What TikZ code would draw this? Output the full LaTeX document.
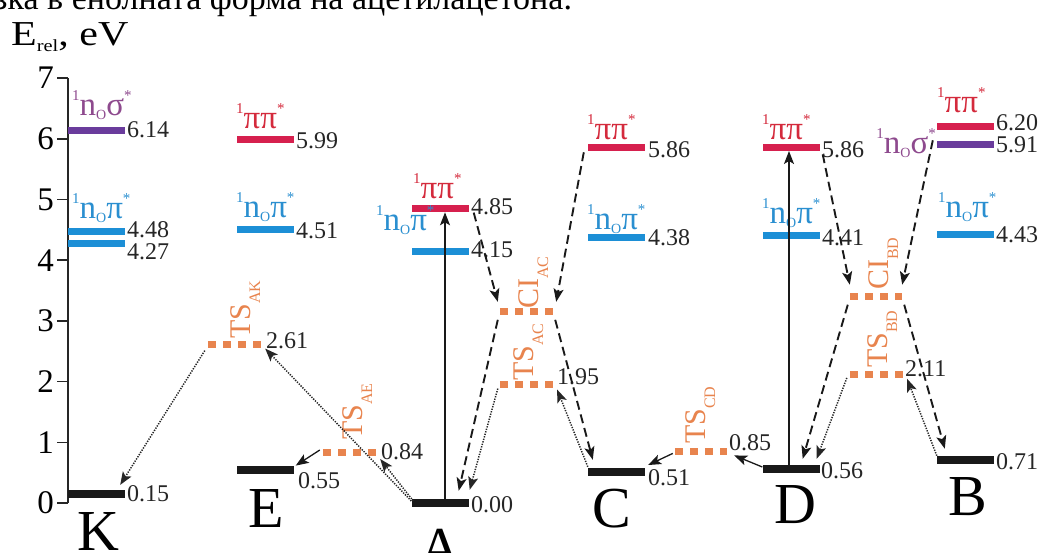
\documentclass[tikz,border=0pt]{standalone}
\usepackage{fontspec}
\setmainfont{Liberation Serif}
\usetikzlibrary{arrows.meta,calc}
\definecolor{cblue}{HTML}{1C8FD6}
\definecolor{cred}{HTML}{D6204E}
\definecolor{cpurp}{HTML}{6A3C9C}
\definecolor{ctpurp}{HTML}{8E4A8E}
\definecolor{ctblue}{HTML}{2A8FD0}
\definecolor{ctred}{HTML}{D42A3C}
\definecolor{corange}{HTML}{E8844E}
\newcommand{\ssup}[1]{\raisebox{15pt}{\fontsize{15}{15}\selectfont #1}}
\newcommand{\ssub}[1]{\raisebox{-4pt}{\fontsize{14}{14}\selectfont #1}}
\newcommand{\lblpp}{\ssup{1}ππ\ssup{*}}
\newcommand{\lblnp}{\ssup{1}n\ssub{O}π\ssup{*}}
\newcommand{\lblns}{\ssup{1}n\ssub{O}σ\ssup{*}}
\newcommand{\tslab}[2]{#1\raisebox{-10pt}{\fontsize{16}{16}\selectfont #2}}
\tikzset{
  bar/.style={inner sep=0pt, minimum width=57pt, minimum height=7pt, fill=#1},
  gbar/.style={inner sep=0pt, minimum width=57pt, minimum height=8pt, fill=black!90},
  tsbar/.style={inner sep=0pt, minimum width=#1, minimum height=7pt},
  tsdots/.style={corange, line width=7pt, dash pattern=on 8pt off 7.2pt},
  val/.style={anchor=west, inner sep=0pt, font=\fontsize{24}{24}\selectfont, text=black!85},
  st/.style={anchor=base west, inner sep=0pt, font=\fontsize{33}{33}\selectfont},
  tsl/.style={anchor=base west, inner sep=0pt, rotate=90, text=corange, font=\fontsize{30}{30}\selectfont},
  big/.style={anchor=base, inner sep=0pt, font=\fontsize{58}{58}\selectfont},
  solidarr/.style={line width=1.3pt, black!90, -{Stealth[length=13pt,width=10pt,inset=3pt]}},
  dasharr/.style={line width=1.9pt, black!90, dash pattern=on 9pt off 5pt, -{Stealth[length=13pt,width=10pt,inset=3pt]}},
  dotarr/.style={line width=1.5pt, black!85, dash pattern=on 1.3pt off 1.3pt, -{Stealth[length=13pt,width=10pt,inset=3pt]}},
}
\begin{document}
\begin{tikzpicture}[x=1pt,y=-1pt]
\useasboundingbox (0,0) rectangle (1045,552);
% caption fragment
\node[anchor=base west, inner sep=0pt, font=\fontsize{34}{34}\selectfont] (cap) at (-6,9) {зка в енолната форма на ацетилацетона.};
% axis title
\node[anchor=base west, inner sep=0pt, font=\fontsize{35}{35}\selectfont] (ytitle) at (11,45) {\scalebox{1.2}[1]{E\raisebox{-6pt}{\fontsize{17}{17}\selectfont rel}, eV}};
% axis
\draw[line width=1.5pt, black!85] (68,78) -- (68,503);
\foreach \v in {0,...,7}{
  \draw[line width=1.5pt, black!85] (57,{503-60.7*\v}) -- (68,{503-60.7*\v});
  \node[anchor=east, inner sep=0pt, font=\fontsize{33}{33}\selectfont] (tick\v) at (54,{503-60.7*\v}) {\v};
}
% K column
\node[bar=cpurp] (KS) at (96.5,130.3) {};
\node[bar=cblue] (Kn1) at (96.5,231.1) {};
\node[bar=cblue] (Kn2) at (96.5,243.8) {};
\node[gbar] (K0) at (96.5,493.9) {};
\node[st, text=ctpurp] (lKS) at (72,115) {\lblns};
\node[st, text=ctblue] (lKn) at (72,218) {\lblnp};
\node[val] (vKS) at (127,130) {6.14};
\node[val] (vKn1) at (127,230) {4.48};
\node[val] (vKn2) at (127,252) {4.27};
\node[val] (vK0) at (127,494) {0.15};
\node[big] (lK) at (98,550) {K};
% E column
\node[bar=cred] (Epp) at (265,139.4) {};
\node[bar=cblue] (En) at (265,229.2) {};
\node[gbar] (E0) at (265,469.6) {};
\node[st, text=ctred] (lEpp) at (236,128) {\lblpp};
\node[st, text=ctblue] (lEn) at (236,217) {\lblnp};
\node[val] (vEpp) at (296,141) {5.99};
\node[val] (vEn) at (296,231) {4.51};
\node[val] (vE0) at (298,481) {0.55};
\node[big] (lE) at (266,527) {E};
% TS_AK, TS_AE
\node[tsbar=54pt] (TSAK) at (235,344.6) {};
\draw[tsdots] (TSAK.west) -- (TSAK.east);
\node[tsl] (lTSAK) at (250,339) {\tslab{TS}{AK}};
\node[val] (vTSAK) at (266,341) {2.61};
\node[tsbar=54pt] (TSAE) at (350,452) {};
\draw[tsdots] (TSAE.west) -- (TSAE.east);
\node[tsl] (lTSAE) at (362,440) {\tslab{TS}{AE}};
\node[val] (vTSAE) at (381,452) {0.84};
% A column
\node[bar=cred] (App) at (440,208.6) {};
\node[bar=cblue] (An) at (440,251.1) {};
\node[gbar] (A0) at (440,503) {};
\node[st, text=ctred] (lApp) at (413,198) {\lblpp};
\node[st, text=ctblue] (lAn) at (376,230) {\lblnp};
\node[val] (vApp) at (471,207) {4.85};
\node[val] (vAn) at (471,250) {4.15};
\node[val] (vA0) at (471,505) {0.00};
\node[big] (lA) at (440,567) {A};
% CI_AC, TS_AC
\node[tsbar=53pt] (CIAC) at (526.5,311.8) {};
\draw[tsdots] (CIAC.west) -- (CIAC.east);
\node[tsl] (lCIAC) at (538,309) {\tslab{CI}{AC}};
\node[tsbar=53pt] (TSAC) at (526.5,384.6) {};
\draw[tsdots] (TSAC.west) -- (TSAC.east);
\node[tsl] (lTSAC) at (533,381) {\tslab{TS}{AC}};
\node[val] (vTSAC) at (557,377) {1.95};
% C column
\node[bar=cred] (Cpp) at (616.5,147.3) {};
\node[bar=cblue] (Cn) at (616.5,237.1) {};
\node[gbar] (C0) at (616.5,472) {};
\node[st, text=ctred] (lCpp) at (587,139) {\lblpp};
\node[st, text=ctblue] (lCn) at (587,229) {\lblnp};
\node[val] (vCpp) at (648,150) {5.86};
\node[val] (vCn) at (648,238) {4.38};
\node[val] (vC0) at (648,478) {0.51};
\node[big] (lC) at (612,527) {C};
% TS_CD
\node[tsbar=52pt] (TSCD) at (701,451.4) {};
\draw[tsdots] (TSCD.west) -- (TSCD.east);
\node[tsl] (lTSCD) at (705,444) {\tslab{TS}{CD}};
\node[val] (vTSCD) at (729,443) {0.85};
% D column
\node[bar=cred] (Dpp) at (791,147.3) {};
\node[bar=cblue] (Dn) at (791,235.3) {};
\node[gbar] (D0) at (791,469) {};
\node[st, text=ctred] (lDpp) at (762,139) {\lblpp};
\node[st, text=ctblue] (lDn) at (762,223) {\lblnp};
\node[val] (vDpp) at (822,150) {5.86};
\node[val] (vDn) at (822,238) {4.41};
\node[val] (vD0) at (821,471) {0.56};
\node[big] (lD) at (795,523) {D};
% CI_BD, TS_BD
\node[tsbar=52pt] (CIBD) at (876,296.7) {};
\draw[tsdots] (CIBD.west) -- (CIBD.east);
\node[tsl] (lCIBD) at (888,290) {\tslab{CI}{BD}};
\node[tsbar=53pt] (TSBD) at (876.5,374.9) {};
\draw[tsdots] (TSBD.west) -- (TSBD.east);
\node[tsl] (lTSBD) at (887,368) {\tslab{TS}{BD}};
\node[val] (vTSBD) at (905,369) {2.11};
% B column
\node[bar=cred] (Bpp) at (965.5,126.7) {};
\node[bar=cpurp] (Bs) at (965.5,144.3) {};
\node[bar=cblue] (Bn) at (965.5,234.1) {};
\node[gbar] (B0) at (965.5,459.9) {};
\node[st, text=ctred] (lBpp) at (937,112) {\lblpp};
\node[st, text=ctpurp, anchor=base east] (lBs) at (936,153) {\lblns};
\node[st, text=ctblue] (lBn) at (938,217) {\lblnp};
\node[val] (vBpp) at (996,123) {6.20};
\node[val] (vBs) at (996,145) {5.91};
\node[val] (vBn) at (996,235) {4.43};
\node[val] (vB0) at (996,462) {0.71};
\node[big] (lB) at (968,515) {B};
% connectors
\draw[dotarr] ($(TSAK.west)+(-3,6)$) -- ($(K0.east)+(-5,-9)$);
\draw[dotarr] ($(A0.west)+(0,-2)$) -- ($(TSAK.east)+(3,4)$);
\draw[dotarr] ($(A0.west)+(2,-2)$) -- ($(TSAE.east)+(3,7)$);
\draw[solidarr] ($(TSAE.west)+(-3,-2)$) -- ($(E0.east)+(2,-4)$);
\draw[solidarr] ($(A0.north)+(5,0)$) -- ($(App.south)+(5,0)$);
\draw[dasharr] ($(App.east)+(5,4)$) -- ($(CIAC.west)+(-2,-10)$);
\draw[dasharr] ($(Cpp.west)+(-4,5)$) -- ($(CIAC.east)+(3,-10)$);
\draw[dasharr] ($(CIAC.west)+(-2,8)$) -- ($(A0.north east)+(-10,-8)$);
\draw[dotarr] ($(TSAC.west)+(-2,4)$) -- ($(A0.north east)+(1,-9)$);
\draw[dasharr] ($(CIAC.east)+(2,8)$) -- ($(C0.north west)+(5,-8)$);
\draw[dotarr] ($(C0.north west)+(0,-1)$) -- ($(TSAC.east)+(4,5)$);
\draw[solidarr] ($(TSCD.west)+(-2,2)$) -- ($(C0.east)+(3,-7)$);
\draw[solidarr] ($(D0.west)+(0,-2)$) -- ($(TSCD.east)+(7,4)$);
\draw[solidarr] ($(D0.north)+(-2,0)$) -- ($(Dpp.south)+(-2,0)$);
\draw[dasharr] ($(Dpp.east)+(3,7)$) -- ($(CIBD.west)+(0,-12)$);
\draw[dasharr] ($(Bs.west)+(-4,-4)$) -- ($(CIBD.east)+(0,-12)$);
\draw[dasharr] ($(CIBD.west)+(-2,8)$) -- ($(D0.north east)+(-17,-6)$);
\draw[dotarr] ($(TSBD.west)+(-3,3)$) -- ($(D0.north east)+(-3,-6)$);
\draw[dasharr] ($(CIBD.east)+(2,8)$) -- ($(B0.north west)+(8,-7)$);
\draw[dotarr] ($(B0.north west)+(0,0)$) -- ($(TSBD.east)+(4,4)$);
\end{tikzpicture}
\end{document}
